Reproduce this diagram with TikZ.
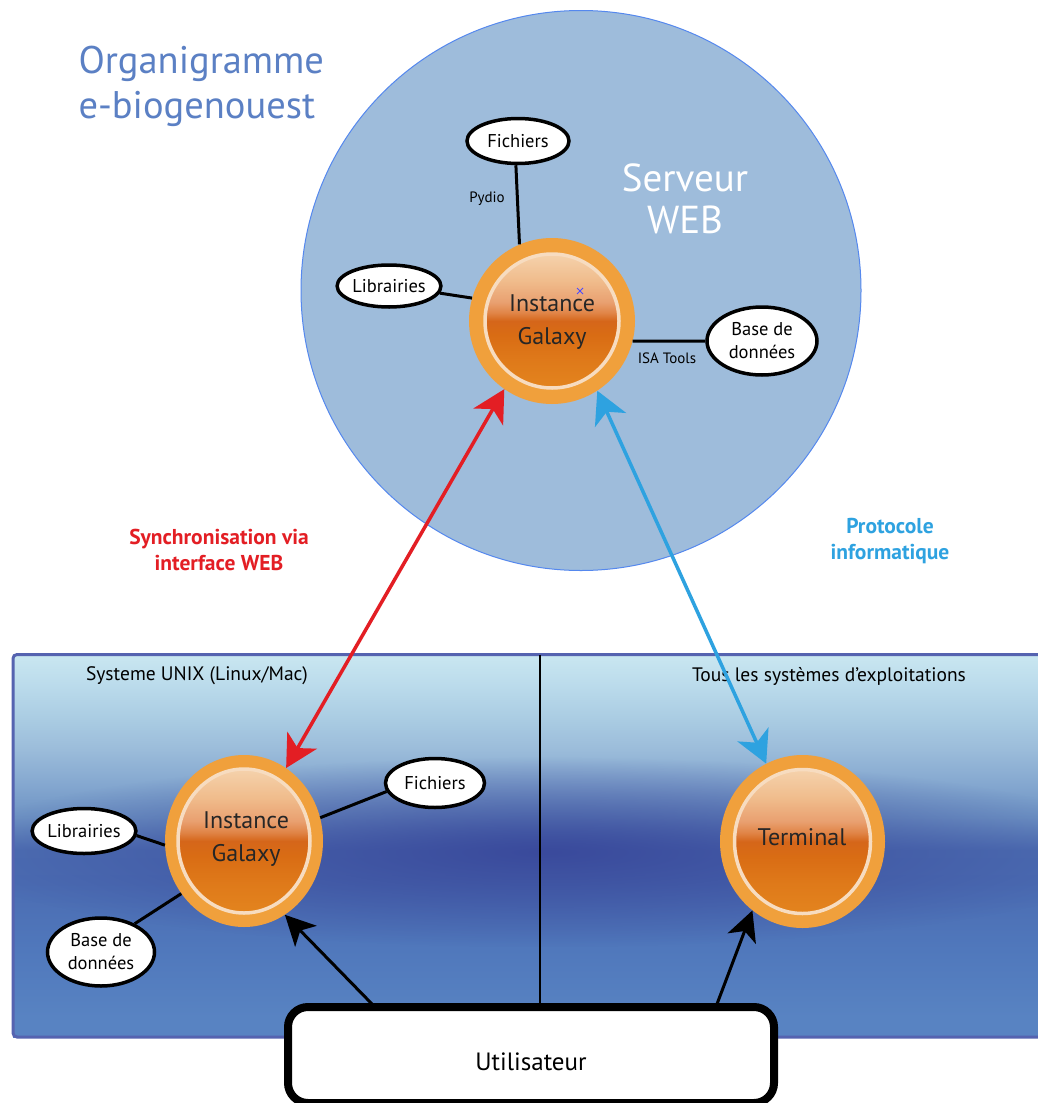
\documentclass[tikz,border=0pt]{standalone}
\usepackage{fontspec}
\setmainfont{PT Sans}
\usetikzlibrary{arrows.meta,shapes.geometric,fadings}
\newcommand\myfs[2]{\fontsize{#1}{#2}\selectfont}
\tikzfading[name=bandfade, inner color=transparent!0, outer color=transparent!100]
\definecolor{titleblue}{HTML}{5B80C4}
\definecolor{srvfill}{HTML}{9EBCDB}
\definecolor{srvdraw}{HTML}{5588EE}
\definecolor{orangeO}{HTML}{F0A03C}
\definecolor{ringc}{HTML}{F7DCC0}
\definecolor{redA}{HTML}{E31E24}
\definecolor{blueA}{HTML}{2EA2E0}
\definecolor{panelB}{HTML}{5563B0}
\definecolor{darkband}{HTML}{3A4A9C}
\definecolor{p0}{HTML}{5883C2}
\definecolor{p1}{HTML}{5078BC}
\definecolor{p2}{HTML}{4B6CB2}
\definecolor{p3}{HTML}{4D6EB2}
\definecolor{p4}{HTML}{6E93C4}
\definecolor{p5}{HTML}{85A8D0}
\definecolor{p6}{HTML}{9BBCDA}
\definecolor{p7}{HTML}{ABCDE3}
\definecolor{p8}{HTML}{BCDCEC}
\definecolor{p9}{HTML}{C8E6F0}
\definecolor{o0}{HTML}{E3841E}
\definecolor{o1}{HTML}{DF7A1A}
\definecolor{o2}{HTML}{D96C14}
\definecolor{o3}{HTML}{D5661A}
\definecolor{o4}{HTML}{E08446}
\definecolor{o5}{HTML}{E9A070}
\definecolor{o6}{HTML}{F0BC8C}
\definecolor{o7}{HTML}{F5D2AC}
\pgfdeclareverticalshading{panelshade}{100bp}{color(0bp)=(p0); color(25bp)=(p0); color(27.6bp)=(p0); color(36.4bp)=(p1); color(45.2bp)=(p2); color(49.5bp)=(p3); color(53.8bp)=(p4); color(58.2bp)=(p5); color(62.6bp)=(p6); color(66.9bp)=(p7); color(71.3bp)=(p8); color(74.7bp)=(p9); color(100bp)=(p9)}
\pgfdeclareverticalshading{galx}{100bp}{color(0bp)=(o0); color(25bp)=(o0); color(35bp)=(o1); color(45bp)=(o2); color(50bp)=(o3); color(53bp)=(o4); color(57bp)=(o5); color(65bp)=(o6); color(75bp)=(o7); color(100bp)=(o7)}
\tikzset{
  outerc/.style={ellipse, fill=orangeO, inner sep=0pt},
  innerc/.style={shading=galx, draw=ringc, line width=3.5pt},
  galtext/.style={align=center, font=\myfs{24}{33}, text=black!85},
  bub/.style={ellipse, draw=black, line width=3.5pt, fill=white, inner sep=0pt, align=center, font=\myfs{18.5}{22}},
  conn/.style={line width=3pt, black},
  small/.style={font=\myfs{15}{17}},
  arrtip/.tip={Stealth[length=32pt,width=34pt,inset=9pt]},
  bitip/.style={line width=3.5pt, arrtip-arrtip},
  usertip/.style={line width=3pt, -{Stealth[length=30pt,width=30pt,inset=8pt]}},
}
\begin{document}
\begin{tikzpicture}[x=1pt,y=-1pt]
\useasboundingbox[fill=white] (0,0) rectangle (1038,1103);
% server circle
\node[circle, fill=srvfill, draw=srvdraw, line width=1pt, minimum size=560pt, inner sep=0pt] (srv) at (581,290.5) {};
% title
\node[anchor=west, align=left, text=titleblue, font=\myfs{38.5}{45}] (title) at (75,86) {Organigramme\\e-biogenouest};
\node[align=center, text=white, font=\myfs{39}{42}] (srvlab) at (685,199) {Serveur\\WEB};
% bottom panel
\shade[shading=panelshade] (13,654.5) rectangle (1052,1037);
\begin{scope}
\clip (13,654.5) rectangle (1052,1037);
\fill[darkband, path fading=bandfade] (545,852) ellipse [x radius=600pt, y radius=95pt];
\end{scope}
\draw[panelB, line width=3pt, rounded corners=4pt] (13,654.5) rectangle (1052,1037);
\draw[line width=2.5pt] (540,655) -- (540,1004);
\node[font=\myfs{19.5}{22}] (unix) at (197,676) {Systeme UNIX (Linux/Mac)};
\node[font=\myfs{19.5}{22}] (tous) at (829,676) {Tous les systèmes d’exploitations};
% labels
\node[align=center, text=redA, font=\bfseries\myfs{21.5}{26}] (sync) at (219,550) {Synchronisation via\\interface WEB};
\node[align=center, text=blueA, font=\bfseries\myfs{21.5}{26}] (proto) at (890,541) {Protocole\\informatique};
% top galaxy
\node[outerc, minimum width=166pt, minimum height=166pt] (g1) at (552,321) {};
\shadedraw[innerc] (g1.center) ellipse [x radius=67pt, y radius=67pt];
\node[galtext] (g1t) at (552,322) {Instance\\Galaxy};
\draw[blue!70, line width=0.8pt] (577,288) -- (583,294) (577,294) -- (583,288);
% top bubbles
\node[bub, minimum width=102pt, minimum height=45pt] (f1) at (518,141) {Fichiers};
\node[bub, minimum width=98pt, minimum height=42pt] (l1) at (389,286) {Librairies};
\node[bub, minimum width=110pt, minimum height=68pt, font=\myfs{18.5}{23}] (b1) at (762,341) {Base de\\données};
\draw[conn] (f1.265) -- (g1.113);
\draw[conn] (l1.-8) -- (g1.164);
\draw[conn] (g1.-14) -- (b1.west);
\node[small] (pydio) at (487,199) {Pydio};
\node[small] (isa) at (667,358) {ISA Tools};
% bottom galaxy
\node[outerc, minimum width=158pt, minimum height=172pt] (g2) at (244,841) {};
\shadedraw[innerc] (g2.center) ellipse [x radius=66pt, y radius=72pt];
\node[galtext] (g2t) at (246,839) {Instance\\Galaxy};
\node[bub, minimum width=99pt, minimum height=49pt] (f2) at (435,783) {Fichiers};
\node[bub, minimum width=97pt, minimum height=45pt] (l2) at (84,831) {Librairies};
\node[bub, minimum width=107pt, minimum height=68pt, font=\myfs{18.5}{23}] (b2) at (101,952) {Base de\\données};
\draw[conn] (g2.17) -- (f2.190);
\draw[conn] (l2.-5) -- (g2.183);
\draw[conn] (b2.40) -- (g2.220);
% terminal
\node[outerc, minimum width=165pt, minimum height=173pt] (t) at (802.5,841.5) {};
\shadedraw[innerc] (t.center) ellipse [x radius=68pt, y radius=72pt];
\node[galtext] (tt) at (802,837) {Terminal};
% double arrows
\draw[bitip, redA] (g1.235) -- (g2.60);
\draw[bitip, blueA] (g1.303) -- (t.115);
% user box
\coordinate (u1) at (372,1004);
\coordinate (u2) at (717,1004);
\draw[usertip] (u1) -- (g2.299);
\draw[usertip] (u2) -- (t.234);
\node[draw=black, line width=8pt, rounded corners=20pt, fill=white, minimum width=486pt, minimum height=96pt, inner sep=0pt] (u) at (531,1055) {};
\node[font=\myfs{25}{28}] (ut) at (531,1062) {Utilisateur};
\end{tikzpicture}
\end{document}
